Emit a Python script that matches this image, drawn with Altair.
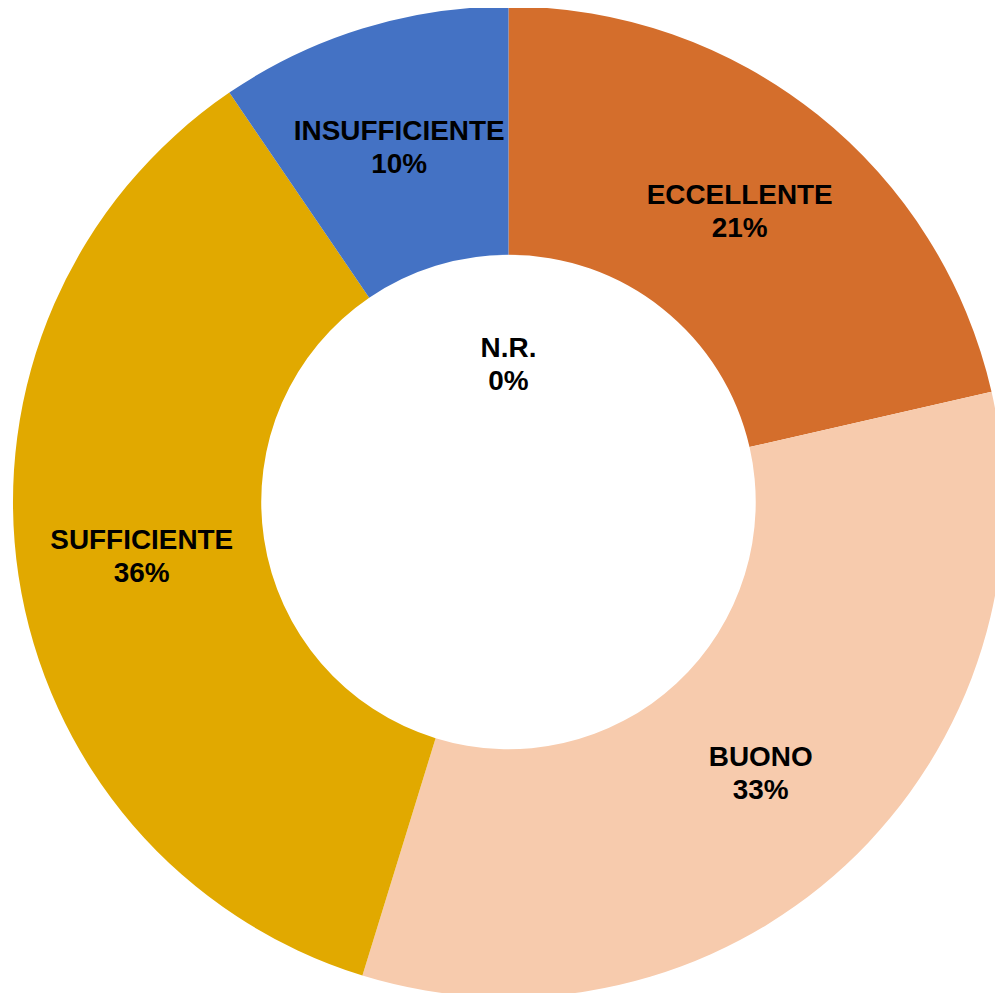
import altair as alt
import pandas as pd

categories = ["ECCELLENTE", "BUONO", "SUFFICIENTE", "INSUFFICIENTE", "N.R."]
counts = [9, 14, 15, 4, 0]
colors = ["#D46E2C", "#F7CBAD", "#E1A900", "#4472C4", "#A5A5A5"]

total = sum(counts)
pct_labels = [f"{round(100 * c / total)}%" for c in counts]

df = pd.DataFrame({
    "category": categories,
    "count": counts,
    "order": list(range(len(categories))),
    "label": [f"{c}\n{p}" for c, p in zip(categories, pct_labels)],
})

cx, cy = 502, 494

base = alt.Chart(df).encode(
    theta=alt.Theta("count:Q", stack=True),
    order=alt.Order("order:Q"),
    x=alt.value(cx),
    y=alt.value(cy),
)

arcs = base.mark_arc(outerRadius=497, innerRadius=248).encode(
    color=alt.Color("category:N", scale=alt.Scale(domain=categories, range=colors), legend=None)
)

text_style = dict(
    font="Liberation Sans",
    fontSize=28,
    fontWeight="bold",
    color="black",
    lineBreak="\n",
    lineHeight=33,
    align="center",
    baseline="middle",
    dy=-16,
)

ring_text = base.mark_text(radius=372, **text_style).encode(
    text=alt.condition(alt.datum["count"] > 0, alt.Text("label:N"), alt.value("")),
)

hole_text = base.mark_text(radius=137, **text_style).encode(
    text=alt.condition(alt.datum["count"] == 0, alt.Text("label:N"), alt.value("")),
)

chart = (arcs + ring_text + hole_text).properties(
    width=990, height=985, padding=0, autosize=alt.AutoSizeParams(type="none")
).configure_view(stroke=None)

chart.save("out.html", embed_options={"renderer": "svg", "actions": False})
